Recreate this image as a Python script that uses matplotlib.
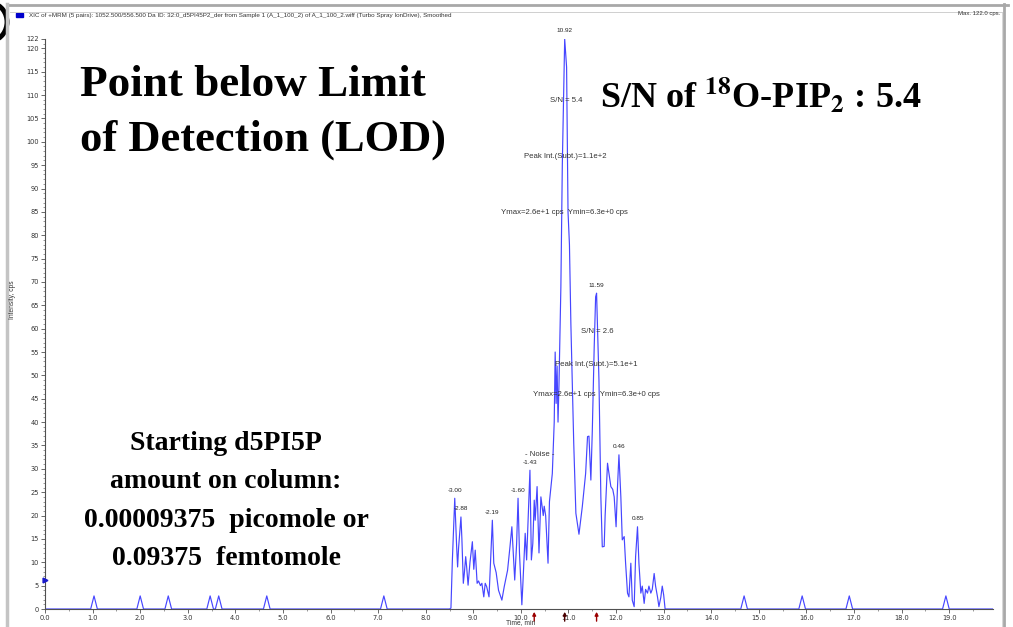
import matplotlib
matplotlib.use("Agg")
import matplotlib.pyplot as plt
from matplotlib.patches import Rectangle, Arc
from matplotlib.lines import Line2D

# ---------------- data ----------------
time_min = [0.0,
            0.96, 1.03, 1.10, 1.93, 2.00, 2.07, 2.52, 2.59, 2.66,
            3.40, 3.47, 3.54, 3.58, 3.65, 3.72, 4.59, 4.66, 4.73,
            7.05, 7.12, 7.19,
            8.50, 8.53, 8.56, 8.61, 8.65, 8.67, 8.69, 8.74, 8.76, 8.79,
            8.81, 8.84, 8.86, 8.89, 8.93, 8.98, 9.01, 9.04, 9.08, 9.11,
            9.15, 9.18, 9.22, 9.25, 9.28, 9.33, 9.40, 9.43, 9.48, 9.53,
            9.60, 9.65, 9.72, 9.77, 9.81, 9.84, 9.87, 9.91, 9.94, 9.97,
            10.02, 10.04, 10.09, 10.12, 10.14, 10.19, 10.22, 10.25, 10.28, 10.30,
            10.34, 10.38, 10.42, 10.47, 10.49, 10.52, 10.57, 10.60, 10.66, 10.70,
            10.72, 10.74, 10.76, 10.78, 10.80, 10.84, 10.87, 10.92, 10.96, 10.99,
            11.02, 11.05, 11.11, 11.155, 11.22, 11.29, 11.36, 11.40, 11.43, 11.47,
            11.50, 11.54, 11.57, 11.59, 11.64, 11.68, 11.71, 11.75, 11.77, 11.82,
            11.85, 11.89, 11.93, 11.96, 12.00, 12.03, 12.06, 12.10, 12.13, 12.17,
            12.20, 12.24, 12.27, 12.31, 12.34, 12.38, 12.41, 12.45, 12.48, 12.52,
            12.55, 12.59, 12.62, 12.66, 12.69, 12.73, 12.76, 12.80, 12.83, 12.87,
            12.90, 12.94, 12.97, 13.00, 13.03,
            14.62, 14.69, 14.76, 15.84, 15.91, 15.98, 16.83, 16.90, 16.97,
            18.86, 18.93, 19.00, 19.92]
intensity_cps = [0.0,
                 0.0, 2.8, 0.0, 0.0, 2.8, 0.0, 0.0, 2.8, 0.0,
                 0.0, 2.8, 0.0, 0.0, 2.8, 0.0, 0.0, 2.8, 0.0,
                 0.0, 2.8, 0.0,
                 0.0, 0.2, 10.5, 23.7, 13.3, 9.0, 13.0, 19.7, 15.0, 5.5,
                 7.5, 11.2, 9.0, 5.1, 10.0, 14.4, 8.5, 12.6, 5.5, 6.0,
                 5.0, 5.5, 2.6, 5.5, 4.8, 2.6, 19.0, 9.8, 7.8, 4.0,
                 1.9, 4.8, 8.3, 13.3, 17.6, 12.0, 6.2, 14.0, 23.7, 12.0,
                 0.9, 5.0, 16.2, 10.5, 16.0, 29.7, 10.5, 14.0, 23.3, 19.0,
                 26.2, 12.0, 24.0, 20.0, 22.0, 20.0, 9.8, 23.0, 29.0, 40.0,
                 55.0, 44.0, 52.0, 40.0, 48.0, 69.0, 95.0, 122.0, 116.0, 85.0,
                 78.0, 61.0, 35.5, 20.5, 16.0, 21.9, 29.0, 36.9, 37.0, 27.6,
                 38.0, 56.0, 66.8, 67.6, 49.0, 24.0, 13.3, 13.4, 20.0, 31.2,
                 29.0, 26.2, 25.6, 24.0, 17.6, 26.2, 33.0, 24.0, 14.8, 15.5,
                 9.8, 3.4, 2.6, 9.8, 1.9, 0.5, 11.2, 17.6, 9.8, 3.4,
                 4.9, 1.2, 4.2, 3.4, 4.9, 3.4, 4.2, 7.6, 4.9, 2.6,
                 0.5, 2.5, 4.9, 3.0, 0.0,
                 0.0, 2.8, 0.0, 0.0, 2.8, 0.0, 0.0, 2.8, 0.0,
                 0.0, 2.8, 0.0, 0.0]

# peak labels (time, intensity, text)
peak_label_t = [10.92, 11.59, 8.61, 8.74, 9.40, 9.94, 10.19, 12.06, 12.45]
peak_label_y = [122.0, 67.6, 23.7, 19.7, 19.0, 23.7, 29.7, 33.0, 17.6]
peak_label_txt = ["10.92", "11.59", "-3.00", "-2.88", "-2.19", "-1.60", "-1.43", "0.46", "0.85"]

marker_arrow_t = [10.28, 10.92, 11.59]
marker_arrow_col = ["#9b0000", "#4a0000", "#9b0000"]

yticks = [0, 5, 10, 15, 20, 25, 30, 35, 40, 45, 50, 55, 60, 65, 70, 75, 80, 85, 90,
          95, 100, 105, 110, 115, 120, 122]
xticks = [float(i) for i in range(0, 20)]

W, H = 1013, 627
fig = plt.figure(figsize=(W / 100, H / 100), dpi=100)
fig.patch.set_facecolor("white")

def fx(px):
    return px / W

def fy(py):
    return 1 - py / H

ax = fig.add_axes([fx(45), fy(609), fx(993) - fx(45), fy(39) - fy(609)])
ax.plot(time_min, intensity_cps, color="#4646ff", lw=0.85)
ax.set_xlim(0, 19.92)
ax.set_ylim(0, 122)
for s in ["top", "right"]:
    ax.spines[s].set_visible(False)
for s in ["left", "bottom"]:
    ax.spines[s].set_color("#505050")
    ax.spines[s].set_linewidth(0.8)
ax.set_yticks(yticks)
ax.set_yticklabels([str(v) for v in yticks])
ax.set_yticks(range(0, 123), minor=True)
ax.set_xticks(xticks)
ax.set_xticklabels(["%.1f" % v for v in xticks])
ax.set_xticks([i + 0.5 for i in range(0, 20)], minor=True)
ax.tick_params(axis="both", which="major", labelsize=4.8, length=3, width=0.6,
               color="#505050", labelcolor="#333333", pad=1.5)
ax.tick_params(axis="both", which="minor", length=1.5, width=0.5, color="#707070")

# peak labels
for t, yv, s in zip(peak_label_t, peak_label_y, peak_label_txt):
    ax.annotate(s, xy=(t, yv), xytext=(0, 4), textcoords="offset points",
                ha="center", va="bottom", fontsize=4.6, color="#222222",
                family="Liberation Sans")

# red arrows below x axis
for t, c in zip(marker_arrow_t, marker_arrow_col):
    ax.annotate("", xy=(t, -0.6), xytext=(t, -2.6), xycoords="data", textcoords="data",
                arrowprops=dict(arrowstyle="-|>", color=c, lw=1.0, mutation_scale=5,
                                shrinkA=0, shrinkB=0),
                annotation_clip=False)

# blue marker on y axis
ax.plot([0], [6.3], marker=">", color="#1a1acc", ms=3.5, clip_on=False, zorder=5)

# S/N annotation texts
small = dict(fontsize=5.6, color="#333333", family="Liberation Sans", ha="center", va="center")
fig.text(fx(566), fy(100), "S/N = 5.4", **small)
fig.text(fx(565), fy(157), "Peak Int.(Subt.)=1.1e+2", **small)
fig.text(fx(564), fy(213), "Ymax=2.6e+1 cps  Ymin=6.3e+0 cps", **small)
fig.text(fx(597), fy(332), "S/N = 2.6", **small)
fig.text(fx(596), fy(364), "Peak Int.(Subt.)=5.1e+1", **small)
fig.text(fx(596), fy(395), "Ymax=2.6e+1 cps  Ymin=6.3e+0 cps", **small)
fig.text(fx(540), fy(455), "- Noise -", **small)

# header
fig.text(fx(29), fy(16), "XIC of +MRM (5 pairs): 1052.500/556.500 Da ID: 32:0_d5PI45P2_der from Sample 1 "
         "(A_1_100_2) of A_1_100_2.wiff (Turbo Spray IonDrive), Smoothed",
         fontsize=4.5, color="#333333", family="Liberation Sans", ha="left", va="center")
fig.text(fx(1000), fy(13), "Max. 122.0 cps.", fontsize=4.3, color="#333333",
         family="Liberation Sans", ha="right", va="center")
fig.text(fx(506), fy(623), "Time, min", fontsize=4.8, color="#333333",
         family="Liberation Sans", ha="left", va="center")
fig.text(fx(12), fy(300), "Intensity, cps", fontsize=4.8, color="#333333",
         family="Liberation Sans", ha="center", va="center", rotation=90)

# big labels
plt.rcParams["mathtext.fontset"] = "stix"
serif_b = dict(family="Liberation Serif", weight="bold", color="black")
fig.text(fx(80), fy(96), "Point below Limit", fontsize=32.5, ha="left", va="baseline", **serif_b)
fig.text(fx(80), fy(151), "of Detection (LOD)", fontsize=32, ha="left", va="baseline", **serif_b)
fig.text(fx(600), fy(108), r"S/N of $^{\mathbf{18}}$O-PIP$_{\mathbf{2}}$ : 5.4", fontsize=26,
         ha="left", va="baseline", **serif_b)
fig.text(fx(226), fy(501), "Starting d5PI5P\namount on column:\n0.00009375  picomole or\n0.09375  femtomole",
         fontsize=20, ha="center", va="center", linespacing=1.7, **serif_b)

# window decorations (pixel overlay)
ov = fig.add_axes([0, 0, 1, 1], facecolor="none")
ov.set_xlim(0, W)
ov.set_ylim(H, 0)
ov.axis("off")
ov.add_line(Line2D([8, 1008], [4.5, 4.5], color="#a8a8a8", lw=2.0))
ov.add_line(Line2D([10, 1002], [12.3, 12.3], color="#c8c8c8", lw=0.6))
ov.add_line(Line2D([6.5, 6.5], [4, 627], color="#c4c4c4", lw=2.5))
ov.add_line(Line2D([1004, 1004], [4, 627], color="#a8a8a8", lw=2.0))
ov.add_line(Line2D([1001.5, 1001.5], [12, 627], color="#d0d0d0", lw=0.6))
ov.add_patch(Rectangle((15.5, 12.5), 7, 4.5, color="#0000cc"))
ov.add_patch(Arc((-10, 22), 34, 38, theta1=-80, theta2=80, color="black", lw=3.5))

fig.savefig("out.png", dpi=100)
